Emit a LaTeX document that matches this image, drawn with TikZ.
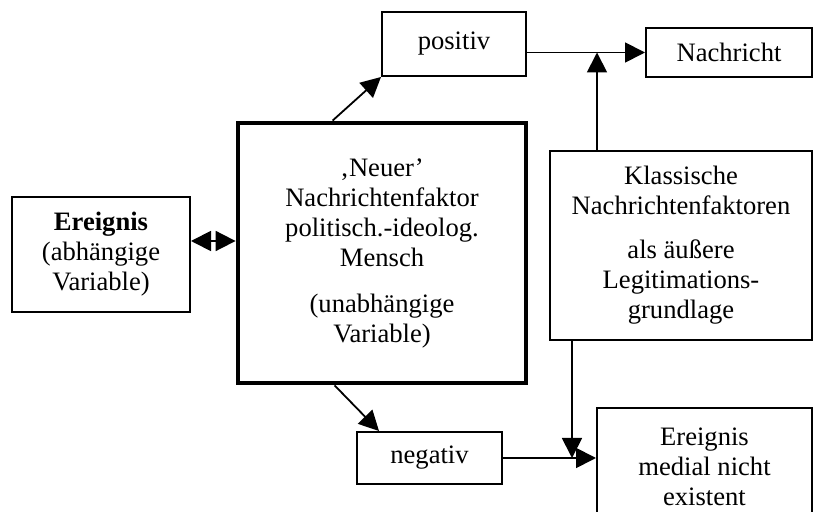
\documentclass[tikz,border=0pt]{standalone}
\usepackage{fontspec}
\setmainfont{Liberation Serif}
\usetikzlibrary{arrows.meta}

\tikzset{
  kasten/.style={draw, line width=1pt, align=center, inner sep=2pt},
  pfeil/.style={line width=0.9pt, -{Triangle[length=10pt,width=10pt]}}
}

\begin{document}
\begin{tikzpicture}[x=0.5pt, y=-0.5pt, font=\fontsize{13.3}{15}\selectfont]
\useasboundingbox (0,0) rectangle (814,512);
\node[kasten, minimum width=89pt, minimum height=57.5pt] (ereignis) at (101,254.5)
  {\textbf{Ereignis}\\(abhängige\\Variable)};
\node[kasten, line width=2.4pt, minimum width=144pt, minimum height=130pt] (neuer) at (382,253)
  {‚Neuer’\\Nachrichtenfaktor\\politisch.-ideolog.\\Mensch\\[8pt](unabhängige\\Variable)};
\node[kasten, minimum width=72pt, minimum height=32pt] (positiv) at (454,44) {positiv};
\node[kasten, minimum width=72.5pt, minimum height=26pt] (negativ) at (429.5,458) {negativ};
\node[kasten, minimum width=83pt, minimum height=24.5pt] (nachricht) at (729,52.5) {Nachricht};
\node[kasten, minimum width=131pt, minimum height=94.5pt] (klassisch) at (681,245.5)
  {Klassische\\Nachrichtenfaktoren\\[7pt]als äußere\\Legitimations-\\grundlage};
\node[kasten, minimum width=107.5pt, minimum height=59pt] (medial) at (704.5,467)
  {Ereignis\\medial nicht\\existent};
% Hilfspunkte
\coordinate (dy) at (0,241);
\coordinate (kt) at ([xshift=24pt]klassisch.north west);
\coordinate (kb) at ([xshift=11.5pt]klassisch.south west);
% Pfeile
\draw[line width=0.9pt, {Triangle[length=10pt,width=10pt]}-{Triangle[length=10pt,width=10pt]}]
  (ereignis.east |- dy) -- (neuer.west |- dy);
\draw[pfeil] ([xshift=48.5pt]neuer.north west) -- (positiv.south west);
\draw[pfeil] ([xshift=49.5pt]neuer.south west) -- ([xshift=11.5pt]negativ.north west);
\draw[pfeil] (positiv.east |- nachricht.west) -- (nachricht.west);
\draw[pfeil] (kt) -- (kt |- nachricht.west);
\draw[pfeil] (kb) -- (kb |- negativ.east);
\draw[pfeil] (negativ.east) -- (negativ.east -| medial.west);
\end{tikzpicture}
\end{document}
